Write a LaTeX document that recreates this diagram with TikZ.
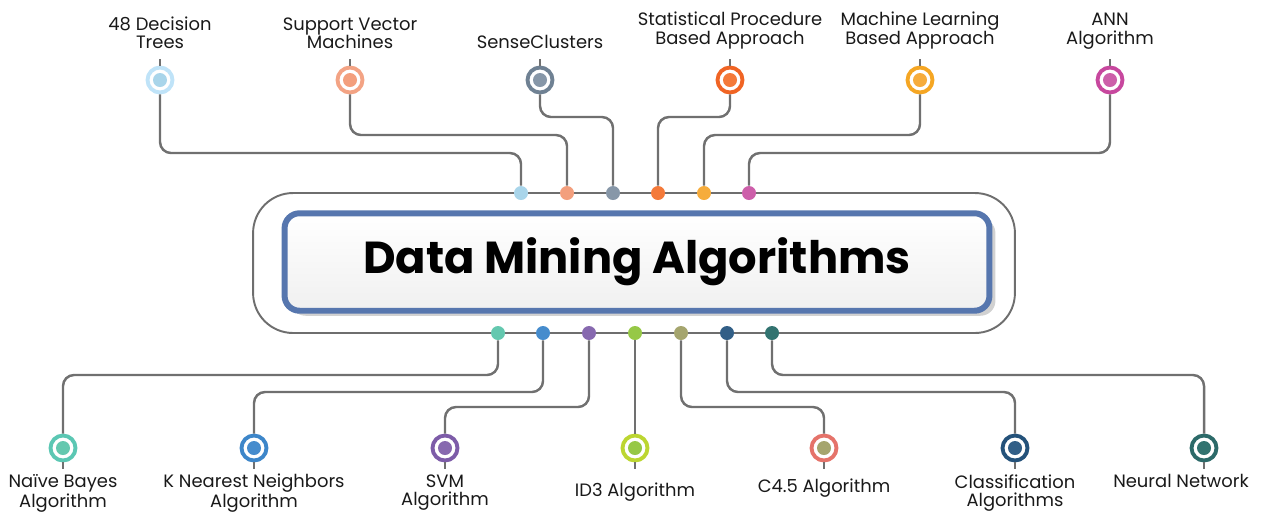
\documentclass[tikz,border=0pt]{standalone}
\usepackage{fontspec}
\setmainfont{Poppins}
\usepackage{tikz}
\usetikzlibrary{positioning, shadows}
\usepackage{xcolor}
\definecolor{WireGray}{RGB}{112, 112, 112}
\definecolor{FrameGray}{RGB}{110, 110, 110}
\definecolor{TitleBlue}{RGB}{86, 118, 174}
\definecolor{DTRing}{RGB}{191, 227, 248}
\definecolor{DTDot}{RGB}{169, 213, 234}
\definecolor{SVRing}{RGB}{243, 163, 132}
\definecolor{SVDot}{RGB}{243, 159, 125}
\definecolor{SCRing}{RGB}{111, 129, 147}
\definecolor{SCDot}{RGB}{135, 151, 168}
\definecolor{SPRing}{RGB}{240, 100, 36}
\definecolor{SPDot}{RGB}{244, 122, 58}
\definecolor{MLRing}{RGB}{245, 166, 35}
\definecolor{MLDot}{RGB}{246, 172, 60}
\definecolor{ANRing}{RGB}{199, 71, 158}
\definecolor{ANDot}{RGB}{205, 95, 170}
\definecolor{NBRing}{RGB}{91, 199, 179}
\definecolor{NBDot}{RGB}{100, 200, 175}
\definecolor{KNRing}{RGB}{61, 134, 201}
\definecolor{KNDot}{RGB}{70, 140, 205}
\definecolor{SMRing}{RGB}{125, 92, 168}
\definecolor{SMDot}{RGB}{135, 105, 175}
\definecolor{IDRing}{RGB}{188, 214, 49}
\definecolor{IDDot}{RGB}{150, 200, 70}
\definecolor{CFRing}{RGB}{229, 115, 106}
\definecolor{CFDot}{RGB}{165, 165, 110}
\definecolor{CLRing}{RGB}{36, 82, 122}
\definecolor{CLDot}{RGB}{50, 95, 135}
\definecolor{NNRing}{RGB}{44, 106, 105}
\definecolor{NNDot}{RGB}{50, 115, 112}

\begin{document}
\begin{tikzpicture}[x=0.02cm, y=0.02cm,
            ring/.style 2 args={circle, draw=#1, line width=2.2pt, fill=white, minimum size=0.5cm, inner sep=0pt,
                path picture={\fill[#2] (path picture bounding box.center) circle (0.14cm);}},
            dot/.style={circle, fill=#1, minimum size=0.28cm, inner sep=0pt},
            wire/.style={draw=WireGray, line width=1.4pt, rounded corners=0.22cm},
            stub/.style={draw=WireGray, line width=1pt},
            lbl/.style={font=\fontsize{10.2}{10.5}\selectfont, align=center, text=black!90},
            blbl/.style={lbl, font=\fontsize{10.2}{10}\selectfont},
            frame/.style={draw=FrameGray, line width=1.1pt, rounded corners=0.8cm, minimum width=15.24cm, minimum height=2.8cm},
            titlebox/.style={draw=TitleBlue, line width=3.4pt, rounded corners=0.3cm, top color=white, bottom color=black!6,
                minimum width=14.1cm, minimum height=1.95cm, font=\fontsize{25.5}{28}\selectfont\bfseries,
                drop shadow={shadow xshift=0.12cm, shadow yshift=-0.1cm, fill=black!40, opacity=0.45}}
        ]
        \useasboundingbox (0,0) rectangle (1263,-512);

        % The Box
        \node[frame] (frame) at (634,-263) {};
        \node[titlebox] (title) at (637,-262) {Data Mining Algorithms};

        % Levels of the wires
        \coordinate (up1) at (0,-117);
        \coordinate (up2) at (0,-135);
        \coordinate (up3) at (0,-153);
        \coordinate (dn1) at (0,-375);
        \coordinate (dn2) at (0,-392);
        \coordinate (dn3) at (0,-407);

        % Dots on the frame
        \node[dot=DTDot] (td1) at (521,-193) {};
        \node[dot=SVDot] (td2) at (567,-193) {};
        \node[dot=SCDot] (td3) at (613,-193) {};
        \node[dot=SPDot] (td4) at (658,-193) {};
        \node[dot=MLDot] (td5) at (704,-193) {};
        \node[dot=ANDot] (td6) at (749,-193) {};

        \node[dot=NBDot] (bd1) at (498,-333) {};
        \node[dot=KNDot] (bd2) at (543,-333) {};
        \node[dot=SMDot] (bd3) at (589,-333) {};
        \node[dot=IDDot] (bd4) at (635,-333) {};
        \node[dot=CFDot] (bd5) at (681,-333) {};
        \node[dot=CLDot] (bd6) at (727,-333) {};
        \node[dot=NNDot] (bd7) at (772,-333) {};

        % Top circles
        \node[ring={DTRing}{DTDot}] (tc1) at (160,-80) {};
        \node[ring={SVRing}{SVDot}] (tc2) at (350,-80) {};
        \node[ring={SCRing}{SCDot}] (tc3) at (540,-80) {};
        \node[ring={SPRing}{SPDot}] (tc4) at (730,-80) {};
        \node[ring={MLRing}{MLDot}] (tc5) at (920,-80) {};
        \node[ring={ANRing}{ANDot}] (tc6) at (1110,-80) {};

        % Bottom circles
        \node[ring={NBRing}{NBDot}] (bc1) at (63,-448) {};
        \node[ring={KNRing}{KNDot}] (bc2) at (254,-448) {};
        \node[ring={SMRing}{SMDot}] (bc3) at (445,-448) {};
        \node[ring={IDRing}{IDDot}] (bc4) at (635,-448) {};
        \node[ring={CFRing}{CFDot}] (bc5) at (824,-448) {};
        \node[ring={CLRing}{CLDot}] (bc6) at (1015,-448) {};
        \node[ring={NNRing}{NNDot}] (bc7) at (1204,-448) {};

        % Wires
        \draw[wire] (tc1.south) -- (tc1 |- up3) -| (td1.north);
        \draw[wire] (tc2.south) -- (tc2 |- up2) -| (td2.north);
        \draw[wire] (tc3.south) -- (tc3 |- up1) -| (td3.north);
        \draw[wire] (tc4.south) -- (tc4 |- up1) -| (td4.north);
        \draw[wire] (tc5.south) -- (tc5 |- up2) -| (td5.north);
        \draw[wire] (tc6.south) -- (tc6 |- up3) -| (td6.north);

        \draw[wire] (bd1.south) -- (bd1 |- dn1) -| (bc1.north);
        \draw[wire] (bd2.south) -- (bd2 |- dn2) -| (bc2.north);
        \draw[wire] (bd3.south) -- (bd3 |- dn3) -| (bc3.north);
        \draw[wire] (bd4.south) -- (bc4.north);
        \draw[wire] (bd5.south) -- (bd5 |- dn3) -| (bc5.north);
        \draw[wire] (bd6.south) -- (bd6 |- dn2) -| (bc6.north);
        \draw[wire] (bd7.south) -- (bd7 |- dn1) -| (bc7.north);

        \foreach \n in {tc1,tc2,tc3,tc4,tc5,tc6} {\draw[stub] (\n.north) -- ++(0,7);}
        \foreach \n in {bc1,bc2,bc3,bc4,bc5,bc6,bc7} {\draw[stub] (\n.south) -- ++(0,-7);}

        % Labels
        \node[lbl, above=0.21cm of tc1] {48 Decision\\Trees};
        \node[lbl, above=0.21cm of tc2] {Support Vector\\Machines};
        \node[lbl, above=0.21cm of tc3] {SenseClusters};
        \node[lbl, above=0.21cm of tc4] {Statistical Procedure\\Based Approach};
        \node[lbl, above=0.21cm of tc5] {Machine Learning\\Based Approach};
        \node[lbl, above=0.21cm of tc6] {ANN\\Algorithm};

        \node[blbl, below=0.12cm of bc1] {Naïve Bayes\\Algorithm};
        \node[blbl, below=0.1cm of bc2] {K Nearest Neighbors\\Algorithm};
        \node[blbl, below=0.13cm of bc3] {SVM\\Algorithm};
        \node[blbl, below=0.29cm of bc4] {ID3 Algorithm};
        \node[blbl, below=0.21cm of bc5] {C4.5 Algorithm};
        \node[blbl, below=0.13cm of bc6] {Classification\\Algorithms};
        \node[blbl, below=0.11cm of bc7, xshift=-0.46cm] {Neural Network};

        \end{tikzpicture}
\end{document}
